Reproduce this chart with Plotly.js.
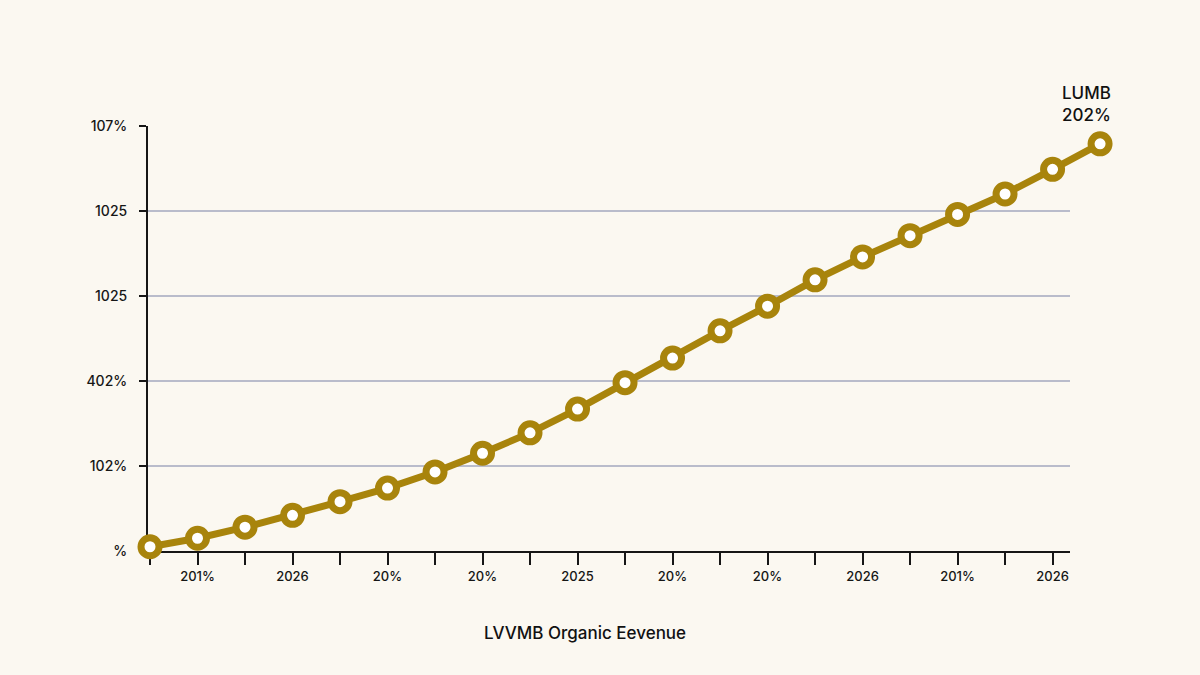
<!DOCTYPE html>
<html>
<head>
<meta charset="utf-8">
<script src="https://cdn.plot.ly/plotly-3.0.1.min.js"></script>
<style>
  html, body {margin:0; padding:0; background:#fbf8f1;}
  #chart {width:1200px; height:675px;}
</style>
</head>
<body>
<div id="chart"></div>
<script>
const periods = [0,1,2,3,4,5,6,7,8,9,10,11,12,13,14,15,16,17,18,19,20];
const revenue = [0.05,0.15,0.28,0.42,0.58,0.74,0.93,1.15,1.39,1.67,1.98,2.27,2.59,2.88,3.19,3.46,3.71,3.96,4.20,4.49,4.79];

const xTickVals = [0,1,2,3,4,5,6,7,8,9,10,11,12,13,14,15,16,17,18,19];
const xTickText = ["","201%","","2026","","20%","","20%","","2025","","20%","","20%","","2026","","201%","","2026"];
const yTickVals = [0,1,2,3,4,5];
const yTickText = ["%","102%","402%","1025","1025","107%"];

const gold = "#a8840c";
const ink = "#161616";

// invisible copy on x/y, only so that the visible axes get drawn
const axisHolder = {
    x: periods,
    y: revenue,
    mode: "lines",
    line: {width: 0},
    opacity: 0,
    hoverinfo: "skip"
};

// the line lives on its own wider subplot so the last point can sit past the axis end
const trace = {
    x: periods,
    y: revenue,
    xaxis: "x2",
    yaxis: "y2",
    mode: "lines+markers",
    line: {width: 7, color: gold},
    marker: {size: 18, color: "#ffffff", line: {width: 7, color: gold}},
    cliponaxis: false,
    hoverinfo: "skip"
};

const layout = {
    width: 1200,
    height: 675,
    paper_bgcolor: "#fbf8f1",
    plot_bgcolor: "rgba(0,0,0,0)",
    margin: {l: 148, r: 70, t: 126, b: 124},
    showlegend: false,
    font: {family: "Inter, 'Noto Sans', sans-serif", color: ink},
    xaxis: {
        domain: [0, 0.939],
        range: [-0.042, 19.37],
        tickmode: "array",
        tickvals: xTickVals,
        ticktext: xTickText,
        ticks: "outside",
        ticklen: 12,
        tickwidth: 2,
        tickcolor: ink,
        showline: true,
        linecolor: ink,
        linewidth: 2,
        showgrid: false,
        zeroline: false,
        tickfont: {size: 13, color: ink, weight: 500}
    },
    yaxis: {
        range: [0, 5],
        tickmode: "array",
        tickvals: yTickVals,
        ticktext: yTickText,
        ticks: "outside",
        ticklen: 7,
        tickwidth: 2,
        tickcolor: ink,
        ticklabelstandoff: 9,
        showline: true,
        linecolor: ink,
        linewidth: 2,
        showgrid: true,
        gridcolor: "#b9bccb",
        gridwidth: 1.5,
        zeroline: false,
        tickfont: {size: 14, color: ink, weight: 500}
    },
    xaxis2: {
        domain: [0, 1],
        range: [-0.042, 20.63],
        anchor: "y2",
        visible: false
    },
    yaxis2: {
        domain: [0, 1],
        range: [0, 5],
        anchor: "x2",
        visible: false
    },
    annotations: [{
        x: periods[periods.length - 1],
        y: revenue[revenue.length - 1],
        xref: "x2", yref: "y2",
        text: "LUMB<br>202%",
        showarrow: false,
        xanchor: "right",
        yanchor: "bottom",
        align: "right",
        xshift: 13,
        yshift: 17,
        font: {size: 17, color: "#111", weight: 500}
    }, {
        x: 0.445, y: 0,
        xref: "paper", yref: "paper",
        text: "LVVMB Organic Eevenue",
        showarrow: false,
        xanchor: "center",
        yanchor: "middle",
        yshift: -82,
        font: {size: 17, color: "#111", weight: 500}
    }]
};

Plotly.newPlot("chart", [axisHolder, trace], layout, {displayModeBar: false, staticPlot: true});
</script>
</body>
</html>
